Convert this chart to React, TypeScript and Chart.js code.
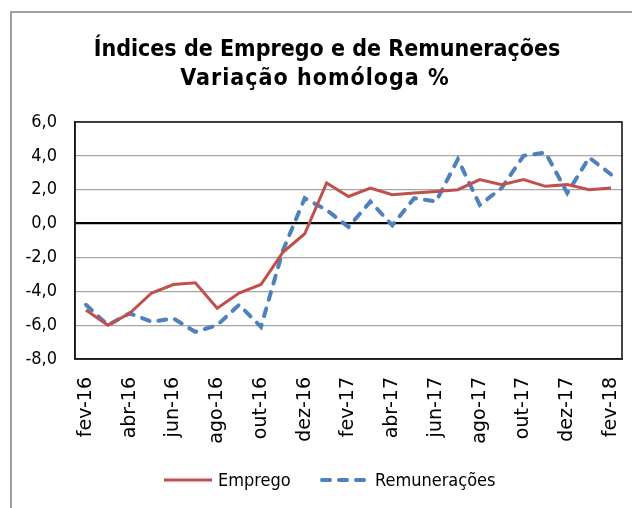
import React, { useEffect, useRef } from "react";
import { Chart, registerables } from "chart.js";

Chart.register(...registerables);

const months: string[] = [
  "fev-16", "mar-16", "abr-16", "mai-16", "jun-16", "jul-16", "ago-16", "set-16",
  "out-16", "nov-16", "dez-16", "jan-17", "fev-17", "mar-17", "abr-17", "mai-17",
  "jun-17", "jul-17", "ago-17", "set-17", "out-17", "nov-17", "dez-17", "jan-18", "fev-18",
];

const emprego: number[] = [
  -5.1, -6.0, -5.3, -4.1, -3.6, -3.5, -5.0, -4.1, -3.6, -1.7, -0.6, 2.4, 1.6,
  2.1, 1.7, 1.8, 1.9, 2.0, 2.6, 2.3, 2.6, 2.2, 2.3, 2.0, 2.1,
];

const remuneracoes: number[] = [
  -4.8, -6.0, -5.3, -5.8, -5.6, -6.4, -6.0, -4.8, -6.1, -1.6, 1.5, 0.8, -0.2,
  1.3, -0.1, 1.5, 1.3, 3.8, 1.1, 2.1, 4.0, 4.2, 1.8, 3.9, 2.9,
];

const titleLines: string[] = ["Índices de Emprego e de Remunerações", "Variação homóloga %"];
const seriesNames: string[] = ["Emprego", "Remunerações"];

const RED = "#C0504D";
const BLUE = "#4F81BD";
const COND = '"DejaVu Sans Condensed", "DejaVu Sans", sans-serif';

const decorPlugin = {
  id: "decor",
  beforeDraw(chart: any) {
    const ctx = chart.ctx;
    ctx.save();
    ctx.fillStyle = "#ffffff";
    ctx.fillRect(0, 0, chart.width, chart.height);
    ctx.strokeStyle = "#a0a0a0";
    ctx.lineWidth = 2;
    ctx.beginPath();
    ctx.moveTo(11, chart.height);
    ctx.lineTo(11, 12);
    ctx.lineTo(chart.width, 12);
    ctx.stroke();
    ctx.restore();
  },
  afterDraw(chart: any) {
    const ctx = chart.ctx;
    const a = chart.chartArea;
    ctx.save();
    // plot border
    ctx.strokeStyle = "#1a1a1a";
    ctx.lineWidth = 1.6;
    ctx.strokeRect(a.left, a.top, a.right - a.left, a.bottom - a.top);
    // title
    ctx.fillStyle = "#000";
    ctx.font = `bold 23px ${COND}`;
    ctx.textAlign = "center";
    ctx.textBaseline = "alphabetic";
    ctx.fillText(titleLines[0], 327, 56);
    try {
      ctx.letterSpacing = "1px";
    } catch (e) {}
    ctx.fillText(titleLines[1], 315, 85);
    try {
      ctx.letterSpacing = "0px";
    } catch (e) {}
    // legend
    ctx.lineWidth = 3;
    ctx.strokeStyle = RED;
    ctx.beginPath();
    ctx.moveTo(164, 480);
    ctx.lineTo(212, 480);
    ctx.stroke();
    ctx.lineWidth = 4;
    ctx.lineCap = "round";
    ctx.setLineDash([8, 9]);
    ctx.strokeStyle = BLUE;
    ctx.beginPath();
    ctx.moveTo(322, 480);
    ctx.lineTo(366, 480);
    ctx.stroke();
    ctx.setLineDash([]);
    ctx.font = `18px ${COND}`;
    ctx.textAlign = "left";
    ctx.textBaseline = "middle";
    ctx.fillStyle = "#000";
    ctx.fillText(seriesNames[0], 218, 481);
    ctx.fillText(seriesNames[1], 375, 481);
    ctx.restore();
  },
};

export default function App() {
  const ref = useRef<HTMLCanvasElement | null>(null);
  useEffect(() => {
    if (!ref.current) return;
    const chart = new Chart(ref.current, {
      type: "line",
      data: {
        labels: months,
        datasets: [
          {
            label: seriesNames[0],
            data: emprego,
            borderColor: RED,
            backgroundColor: RED,
            borderWidth: 3,
            pointRadius: 0,
            tension: 0,
          },
          {
            label: seriesNames[1],
            data: remuneracoes,
            borderColor: BLUE,
            backgroundColor: BLUE,
            borderWidth: 4,
            borderDash: [8, 9],
            borderCapStyle: "round",
            pointRadius: 0,
            tension: 0,
          },
        ],
      },
      options: {
        responsive: false,
        animation: false,
        devicePixelRatio: 1,
        layout: { padding: { top: 122, right: 10, left: 0, bottom: 0 } },
        plugins: {
          legend: { display: false },
          title: { display: false },
          tooltip: { enabled: false },
        },
        scales: {
          x: {
            type: "category",
            offset: true,
            grid: { display: false, drawTicks: false },
            border: { display: true, color: "#1a1a1a", width: 1.6 },
            ticks: {
              autoSkip: false,
              maxRotation: 90,
              minRotation: 90,
              padding: 18,
              color: "#000",
              font: { family: '"DejaVu Sans", sans-serif', size: 19 },
              callback: (_v: any, i: number) => (i % 2 === 0 ? months[i] : ""),
            },
            afterFit: (s: any) => {
              s.height = 149;
              s.paddingLeft = 0;
              s.paddingRight = 0;
            },
          },
          y: {
            min: -8,
            max: 6,
            ticks: {
              stepSize: 2,
              padding: 18,
              color: "#000",
              font: { family: COND, size: 18 },
              callback: (v: any) => Number(v).toFixed(1).replace(".", ","),
            },
            grid: {
              drawTicks: false,
              color: (c: any) => (c.tick && c.tick.value === 0 ? "#000" : "#a6a6a6"),
              lineWidth: (c: any) => (c.tick && c.tick.value === 0 ? 2.2 : 1.2),
            },
            border: { display: true, color: "#1a1a1a", width: 1.6 },
            afterFit: (s: any) => {
              s.width = 75;
              s.paddingTop = 0;
              s.paddingBottom = 0;
            },
          },
        },
      },
      plugins: [decorPlugin],
    });
    return () => chart.destroy();
  }, []);
  return (
    <div style={{ position: "fixed", left: 0, top: 0, width: 632, height: 508, background: "#fff" }}>
      <canvas ref={ref} width={632} height={508} style={{ display: "block", width: 632, height: 508 }} />
    </div>
  );
}
